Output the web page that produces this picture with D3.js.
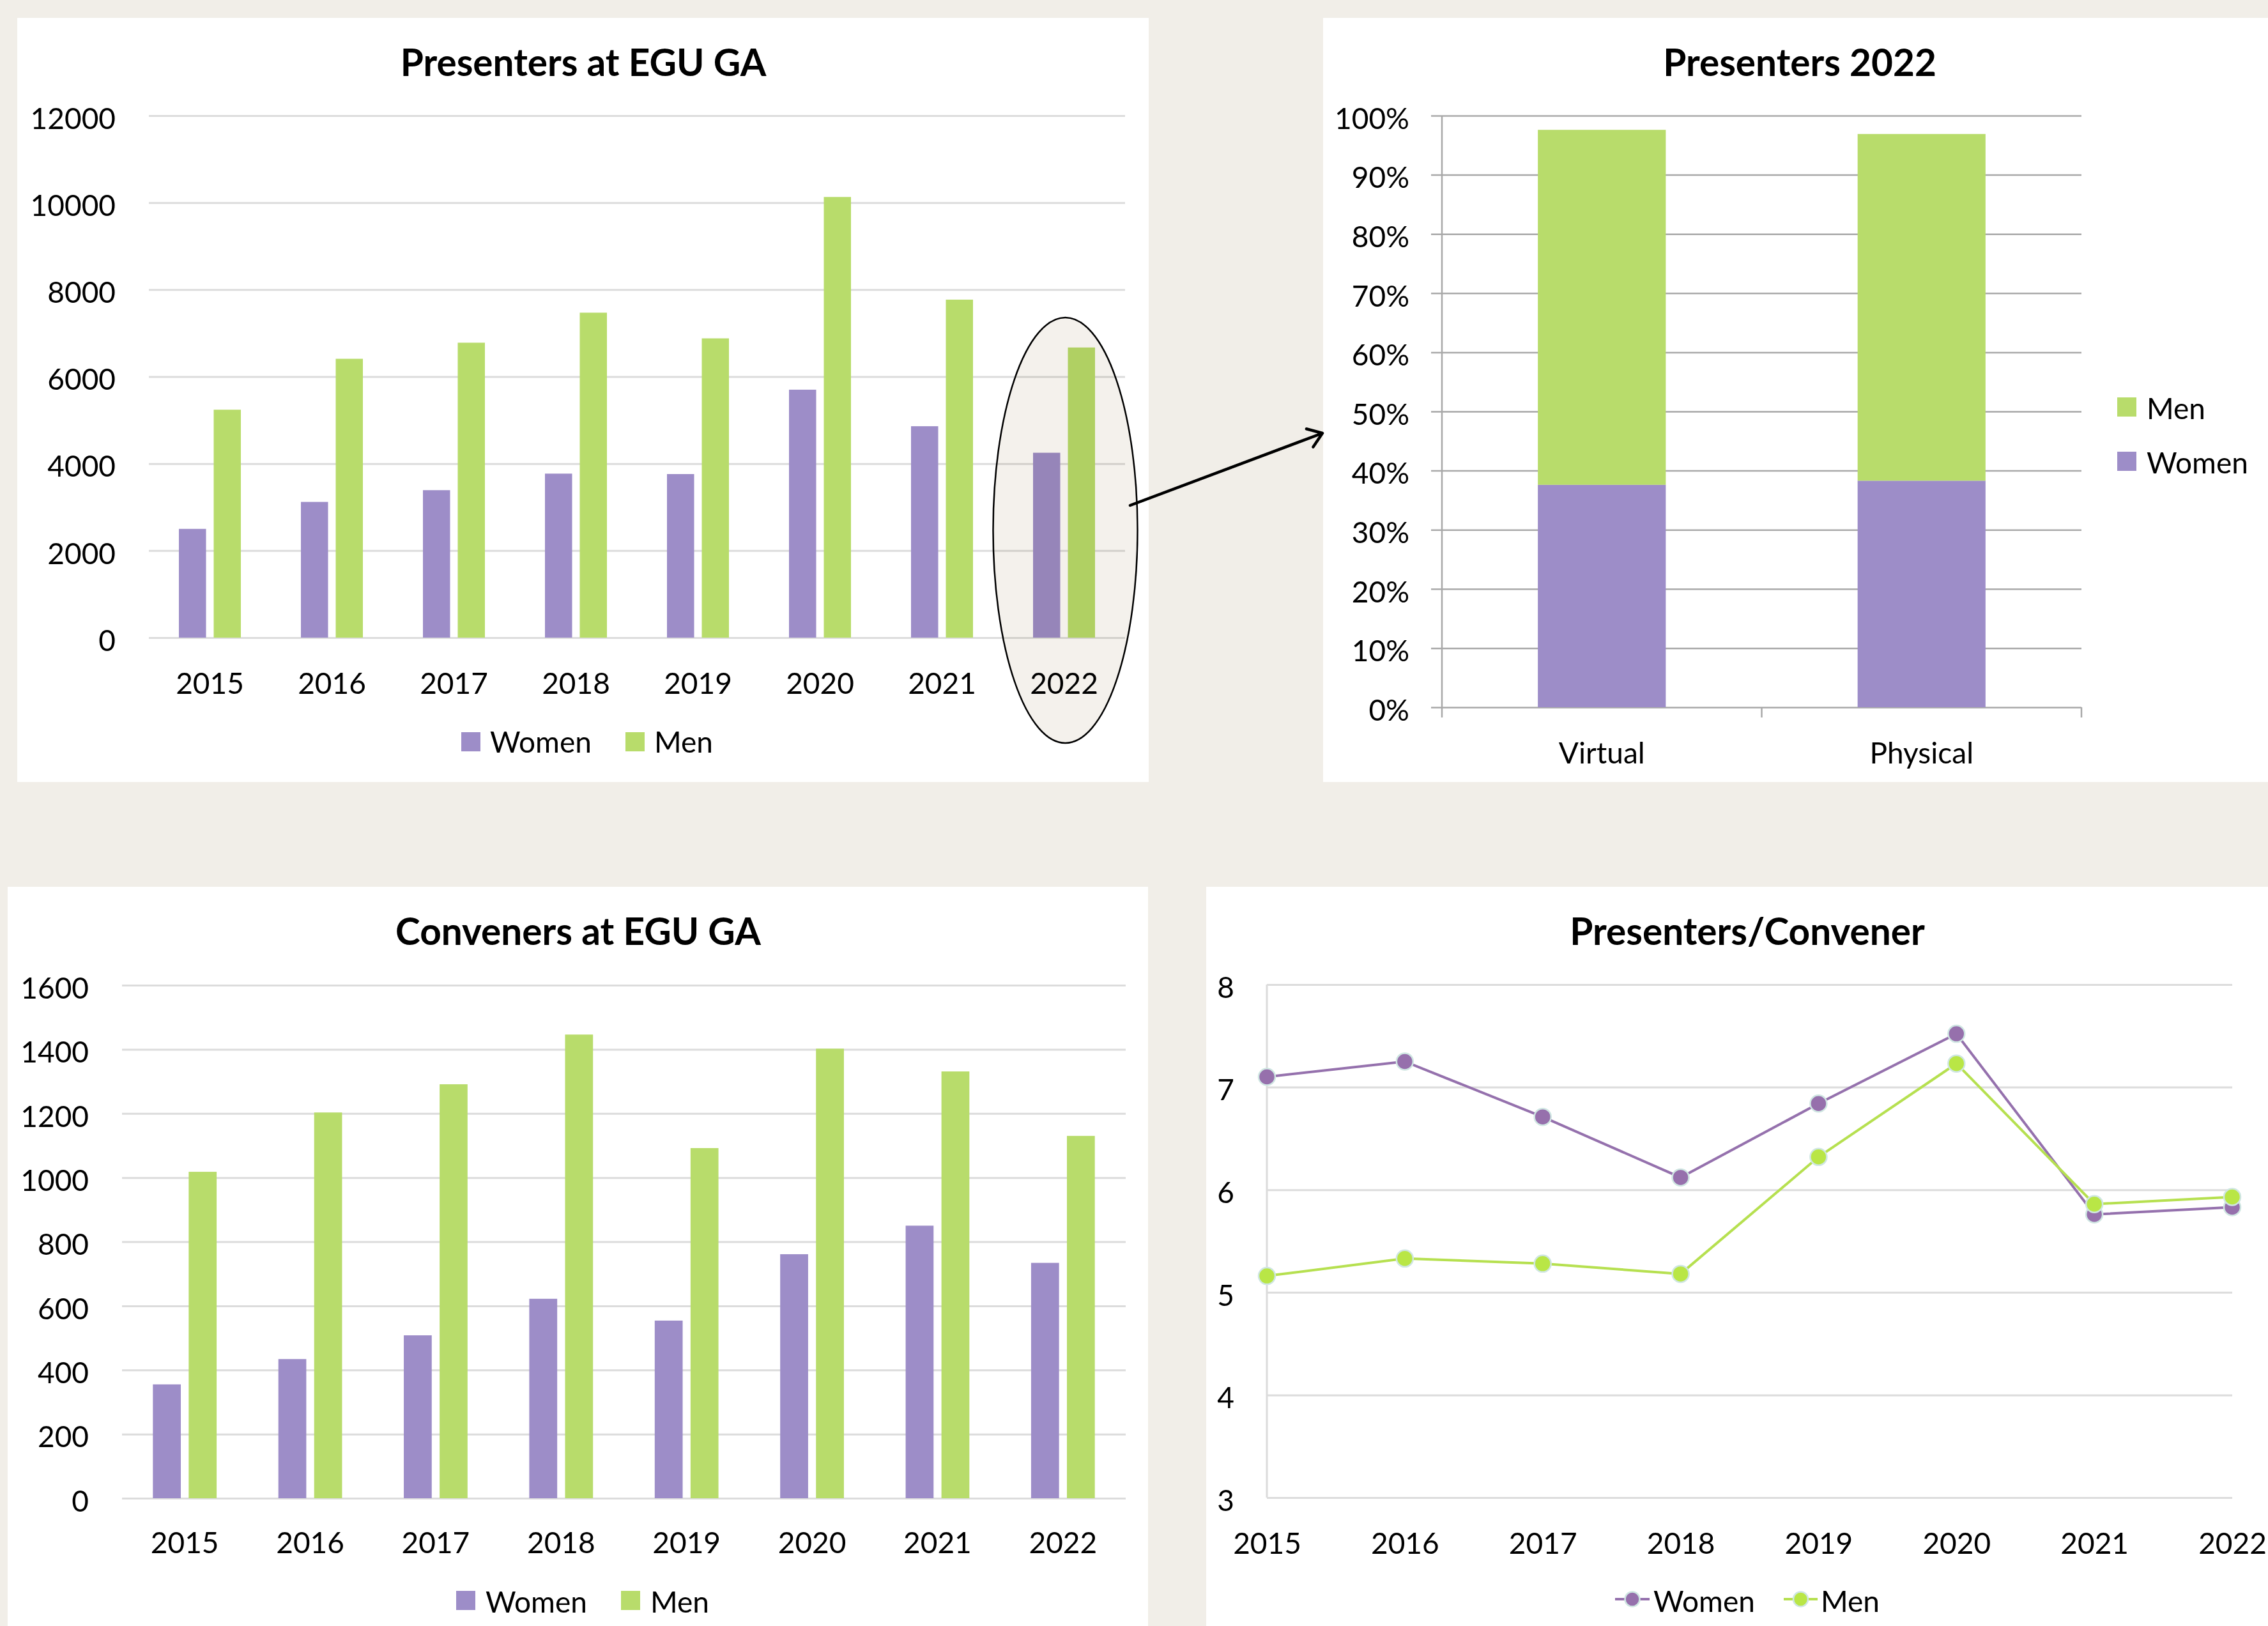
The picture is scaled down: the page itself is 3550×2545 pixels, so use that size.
<!DOCTYPE html>
<html>
<head>
<meta charset="utf-8">
<script src="https://cdn.jsdelivr.net/npm/d3@7"></script>
<style>
  html, body { margin: 0; padding: 0; background: #f1eee8; }
  svg { display: block; }
</style>
</head>
<body>
<div id="chart"></div>
<script>
// values
const years = ["2015", "2016", "2017", "2018", "2019", "2020", "2021", "2022"]
const series = ["Women", "Men"]

const presenters_women = [2500, 3120, 3390, 3770, 3760, 5700, 4860, 4250]
const presenters_men = [5240, 6410, 6780, 7470, 6880, 10130, 7770, 6670]

const conveners_women = [355, 434, 508, 622, 554, 761, 850, 734]
const conveners_men = [1018, 1203, 1291, 1446, 1092, 1402, 1331, 1130]

const ratio_women = [7.10, 7.25, 6.71, 6.12, 6.84, 7.52, 5.76, 5.83]
const ratio_men = [5.16, 5.33, 5.28, 5.18, 6.32, 7.23, 5.86, 5.93]

const modes_2022 = ["Virtual", "Physical"]
const share_women_2022 = [37.6, 38.3]
const share_men_2022 = [60.0, 58.6]

const FONT = "Lato, 'Open Sans', sans-serif"
const bar_color = {Women: "#9d8dc8", Men: "#b8dc6b"}
const line_color = {Women: "#9571ad", Men: "#b6e050"}
const marker_color = {Women: "#9670ac", Men: "#b9e646"}
const grid_light = "#dcdcdc"

const W = 3550, H = 2545

const svg = d3.select("#chart").append("svg")
    .attr("width", W)
    .attr("height", H)
    .attr("font-family", FONT)

svg.append("rect").attr("width", W).attr("height", H).attr("fill", "#f1eee8")

function panel(x, y, w, h) {
    svg.append("rect")
        .attr("x", x).attr("y", y)
        .attr("width", w).attr("height", h)
        .attr("fill", "#fff")
}

function title(text, x, y) {
    svg.append("text")
        .attr("x", x).attr("y", y)
        .attr("text-anchor", "middle")
        .attr("font-size", 58.5)
        .attr("font-weight", 700)
        .attr("fill", "#000")
        .text(text)
}

function y_grid(y, plot, ticks, fmt, color) {
    return svg.append("g")
        .attr("transform", `translate(${plot.left},0)`)
        .call(d3.axisLeft(y)
            .tickValues(ticks)
            .tickFormat(fmt)
            .tickSize(-(plot.right - plot.left))
            .tickPadding(plot.left - plot.label_right))
        .attr("font-size", 46)
        .attr("font-family", FONT)
        .call(g => g.select(".domain").remove())
        .call(g => g.selectAll(".tick line").attr("stroke", color).attr("stroke-width", 3))
        .call(g => g.selectAll(".tick text").attr("fill", "#000").attr("dy", "0.44em"))
}

function x_labels(x, plot, baseline_gap) {
    return svg.append("g")
        .attr("transform", `translate(0,${plot.bottom})`)
        .call(d3.axisBottom(x).tickSize(0).tickPadding(0))
        .attr("font-size", 46)
        .attr("font-family", FONT)
        .call(g => g.select(".domain").remove())
        .call(g => g.selectAll(".tick text").attr("fill", "#000").attr("dy", null).attr("y", baseline_gap))
}

function square_legend(items) {
    items.forEach(d => {
        svg.append("rect")
            .attr("x", d.x).attr("y", d.y)
            .attr("width", 30).attr("height", 30)
            .attr("fill", bar_color[d.key])
        svg.append("text")
            .attr("x", d.tx).attr("y", d.ty)
            .attr("font-size", 46)
            .attr("fill", "#000")
            .text(d.key)
    })
}

function grouped_bars(plot, women, men, y_max, y_step, label_gap) {
    const x0 = d3.scaleBand().domain(years).range([plot.left, plot.right])
    const x1 = d3.scaleBand().domain(series).range([0, x0.bandwidth()])
        .paddingInner(0.22).paddingOuter(0.862)
    const y = d3.scaleLinear().domain([0, y_max]).range([plot.bottom, plot.top])

    y_grid(y, plot, d3.range(0, y_max + 1, y_step), d3.format("d"), grid_light)

    const rows = years.map((yr, i) => ({year: yr, Women: women[i], Men: men[i]}))

    svg.append("g")
        .selectAll("g")
        .data(rows)
        .join("g")
        .attr("transform", d => `translate(${x0(d.year)},0)`)
        .selectAll("rect")
        .data(d => series.map(k => ({key: k, value: d[k]})))
        .join("rect")
        .attr("x", d => x1(d.key))
        .attr("width", x1.bandwidth())
        .attr("y", d => y(d.value))
        .attr("height", d => y(0) - y(d.value))
        .attr("fill", d => bar_color[d.key])

    x_labels(x0, plot, label_gap)
    return {x0, y}
}

// ---------- panel 1: presenters ----------
panel(27, 28, 1771, 1196)
title("Presenters at EGU GA", 913, 119)
const p1 = {left: 233, right: 1761, top: 181, bottom: 998, label_right: 181}
const c1 = grouped_bars(p1, presenters_women, presenters_men, 12000, 2000, 88)
square_legend([
    {key: "Women", x: 722, y: 1146, tx: 767, ty: 1178},
    {key: "Men", x: 979, y: 1146, tx: 1024, ty: 1178},
])

// ---------- panel 2: presenters 2022 share ----------
panel(2071, 28, 1479, 1196)
title("Presenters 2022", 2817, 119)
const p2 = {left: 2257, right: 3258, top: 181, bottom: 1107, label_right: 2206}
const x2 = d3.scaleBand().domain(modes_2022).range([p2.left, p2.right])
    .paddingInner(0.6).paddingOuter(0.3)
const y2 = d3.scaleLinear().domain([0, 100]).range([p2.bottom, p2.top])

y_grid(y2, p2, d3.range(0, 101, 10), d => d + "%", "#a9a9a9")
    .call(g => g.selectAll(".tick line").attr("x1", -17).attr("stroke-width", 2.5))

// axis lines
svg.append("line")
    .attr("x1", p2.left).attr("x2", p2.left)
    .attr("y1", p2.top).attr("y2", p2.bottom)
    .attr("stroke", "#a9a9a9").attr("stroke-width", 2.5)
svg.append("g")
    .selectAll("line")
    .data(d3.range(modes_2022.length + 1))
    .join("line")
    .attr("x1", i => p2.left + i * x2.step())
    .attr("x2", i => p2.left + i * x2.step())
    .attr("y1", p2.bottom).attr("y2", p2.bottom + 16)
    .attr("stroke", "#a9a9a9").attr("stroke-width", 2.5)

const share_rows = modes_2022.map((m, i) => ({mode: m, Women: share_women_2022[i], Men: share_men_2022[i]}))
const stacked = d3.stack().keys(series)(share_rows)

svg.append("g")
    .selectAll("g")
    .data(stacked)
    .join("g")
    .attr("fill", s => bar_color[s.key])
    .selectAll("rect")
    .data(s => s)
    .join("rect")
    .attr("x", d => x2(d.data.mode))
    .attr("width", x2.bandwidth())
    .attr("y", d => y2(d[1]))
    .attr("height", d => y2(d[0]) - y2(d[1]))

x_labels(x2, p2, 88)
square_legend([
    {key: "Men", x: 3314, y: 622, tx: 3360, ty: 656},
    {key: "Women", x: 3314, y: 707, tx: 3360, ty: 741},
])

// ---------- panel 3: conveners ----------
panel(12, 1388, 1785, 1157)
title("Conveners at EGU GA", 905, 1479)
const p3 = {left: 191, right: 1762, top: 1542, bottom: 2345, label_right: 139}
grouped_bars(p3, conveners_women, conveners_men, 1600, 200, 86)
square_legend([
    {key: "Women", x: 714, y: 2490, tx: 760, ty: 2524},
    {key: "Men", x: 972, y: 2490, tx: 1018, ty: 2524},
])

// ---------- panel 4: presenters per convener ----------
panel(1888, 1388, 1662, 1157)
title("Presenters/Convener", 2735, 1479)
const p4 = {left: 1983, right: 3494, top: 1541, bottom: 2344, label_right: 1932}
const x4 = d3.scalePoint().domain(years).range([p4.left, p4.right])
const y4 = d3.scaleLinear().domain([3, 8]).range([p4.bottom, p4.top])

y_grid(y4, p4, d3.range(3, 9), d3.format("d"), grid_light)
svg.append("line")
    .attr("x1", p4.left).attr("x2", p4.left)
    .attr("y1", p4.top).attr("y2", p4.bottom)
    .attr("stroke", grid_light).attr("stroke-width", 3)
x_labels(x4, p4, 88)

const ratio = {Women: ratio_women, Men: ratio_men}
const line = d3.line().x((d, i) => x4(years[i])).y(d => y4(d))

series.forEach(k => {
    svg.append("path")
        .attr("d", line(ratio[k]))
        .attr("fill", "none")
        .attr("stroke", line_color[k])
        .attr("stroke-width", 4)
})
series.forEach(k => {
    svg.append("g")
        .selectAll("circle")
        .data(ratio[k])
        .join("circle")
        .attr("cx", (d, i) => x4(years[i]))
        .attr("cy", d => y4(d))
        .attr("r", 13)
        .attr("fill", marker_color[k])
        .attr("stroke", "#cfe6e2")
        .attr("stroke-width", 2.5)
})

const line_legend = [
    {key: "Women", x1: 2528, x2: 2582, tx: 2588},
    {key: "Men", x1: 2792, x2: 2845, tx: 2850},
]
line_legend.forEach(d => {
    svg.append("line")
        .attr("x1", d.x1).attr("x2", d.x2)
        .attr("y1", 2503).attr("y2", 2503)
        .attr("stroke", line_color[d.key]).attr("stroke-width", 4)
    svg.append("circle")
        .attr("cx", (d.x1 + d.x2) / 2).attr("cy", 2503).attr("r", 11.5)
        .attr("fill", marker_color[d.key])
        .attr("stroke", "#cfe6e2").attr("stroke-width", 2.5)
    svg.append("text")
        .attr("x", d.tx).attr("y", 2523)
        .attr("font-size", 46)
        .attr("fill", "#000")
        .text(d.key)
})

// ---------- annotation: ellipse around 2022 + arrow ----------
const ell_cx = c1.x0("2022") + c1.x0.bandwidth() / 2 + 2
svg.append("ellipse")
    .attr("cx", ell_cx).attr("cy", 830)
    .attr("rx", 113).attr("ry", 333)
    .attr("fill", "#f4f1ec")
    .attr("stroke", "#000")
    .attr("stroke-width", 2.5)
    .style("mix-blend-mode", "multiply")

const a0 = [1769, 791], a1 = [2070, 678]
const ang = Math.atan2(a1[1] - a0[1], a1[0] - a0[0])
const head = 26, spread = 0.62
const h1 = [a1[0] - head * Math.cos(ang - spread), a1[1] - head * Math.sin(ang - spread)]
const h2 = [a1[0] - head * Math.cos(ang + spread), a1[1] - head * Math.sin(ang + spread)]
svg.append("path")
    .attr("d", `M${a0}L${a1}M${h1}L${a1}L${h2}`)
    .attr("fill", "none")
    .attr("stroke", "#000")
    .attr("stroke-width", 4.5)
    .attr("stroke-linecap", "round")
    .attr("stroke-linejoin", "round")
</script>
</body>
</html>
